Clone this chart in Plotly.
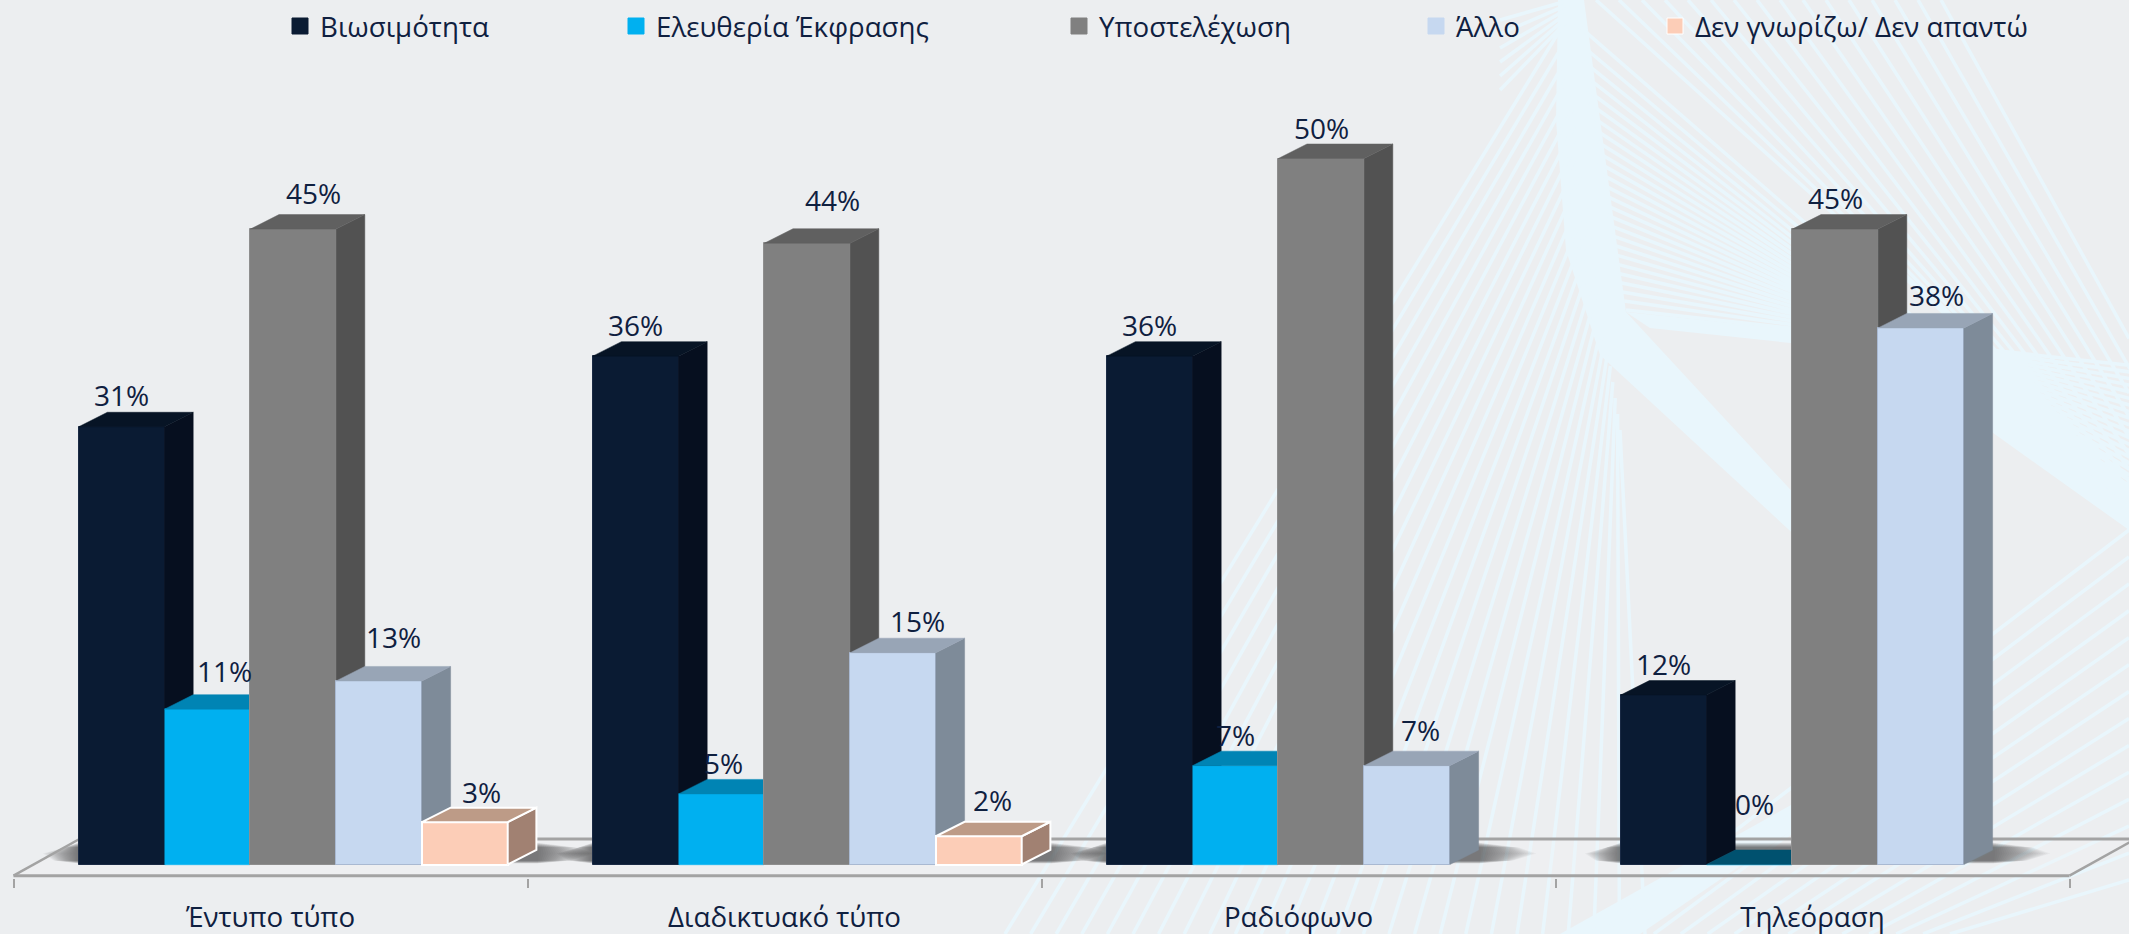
import plotly.graph_objects as go

# ---------- data ----------
categories = ["Έντυπο τύπο", "Διαδικτυακό τύπο", "Ραδιόφωνο", "Τηλεόραση"]
series_names = ["Βιωσιμότητα", "Ελευθερία Έκφρασης", "Υποστελέχωση", "Άλλο", "Δεν γνωρίζω/ Δεν απαντώ"]
viability = [31, 36, 36, 12]
expression = [11, 5, 7, 0]
understaffing = [45, 44, 50, 45]
other = [13, 15, 7, 38]
dont_know = [3, 2, None, None]
all_values = [viability, expression, understaffing, other, dont_know]

# ---------- styles ----------
front_colors = ["#0A1B33", "#00B0F0", "#808080", "#C6D8F0", "#FCCDB7"]
side_colors = ["#060F1F", "#00516F", "#525252", "#7E8B99", "#A18172"]
top_colors = ["#071425", "#0084B4", "#606060", "#98A5B6", "#BD9B87"]
edge_colors = ["#1A2A44", "#00B0F0", "#8E8E8E", "#A9B9D2", "#FFFFFF"]
edge_widths = [1, 0.5, 1, 1, 2]
legend_left_px = [292, 628, 1071, 1428, 1667]
text_color = "#0F2040"
bg_color = "#ECEEF0"
fan_color = "#E9F6FC"
font_family = "Open Sans"

# label nudges (px): dx from the bar centre, dy above the bar's front top
label_dx = [[0, 0, 0, 0], [17, 2, 0, 5], [20, 25, 0, 0], [14, 24, 13, 15], [17, 14, 0, 0]]
label_dy = [[31, 30, 30, 30], [37, 30, 30, 60], [35, 42, 30, 30], [43, 31, 35, 32], [29, 35, 0, 0]]

# ---------- geometry of the frame ----------
W, H = 2129, 934
GROUP_PX = 514.0
AXIS_LEFT_PX = 13.5
BASE_PX = 864.5
PX_PER_PCT = 14.12
BOTTOM_PX = 878.0
xr = [-AXIS_LEFT_PX / GROUP_PX, (W - AXIS_LEFT_PX) / GROUP_PX]
yr = [-(BOTTOM_PX - BASE_PX) / PX_PER_PCT, BASE_PX / PX_PER_PCT]
BAR_W = 85.8 / GROUP_PX
BAR_START = 65.2 / GROUP_PX
DX = 28.7 / GROUP_PX
DY = 14.5 / PX_PER_PCT
FLOOR_FRONT = -11.2 / PX_PER_PCT
FLOOR_BACK = 25.5 / PX_PER_PCT
FLOOR_DX = 66 / GROUP_PX


def px(v):
    return v / W


def py(v):
    return 1 - v / BOTTOM_PX


def seg(x0, y0, x1, y1):
    return f"M{px(x0):.5f},{py(y0):.5f}L{px(x1):.5f},{py(y1):.5f}"


def poly(pts):
    return "M" + "L".join(f"{px(a):.5f},{py(b):.5f}" for a, b in pts) + "Z"


def interp(x, pts):
    for (x0, y0), (x1, y1) in zip(pts, pts[1:]):
        if x <= x1:
            return y0 + (y1 - y0) * (x - x0) / (x1 - x0)
    return pts[-1][1]


shapes = []

# decorative background: pale bands and string-art line families
UPPER_ENV = [(1500, 335), (1800, 338), (1968, 385), (2129, 505)]
LOWER_ENV = [(1500, 350), (1800, 350), (1968, 415), (2129, 530)]
bands = [
    [(1558, 0), (1584, 0), (1626, 312), (1800, 500), (1800, 540), (1600, 355), (1566, 250), (1556, 120)],
    [(1626, 312), (1800, 330), (1968, 370), (2129, 488), (2129, 530), (1968, 415), (1800, 344), (1650, 328)],
    [(1560, 934), (1800, 800), (1800, 825), (1640, 934)],
]
for b in bands:
    shapes.append(dict(type="path", xref="paper", yref="paper", path=poly(b), fillcolor=fan_color,
                       line=dict(width=0), layer="below"))

paths = []
# rays descending to the right, starting on the top edge
for i in range(16):
    t = i / 15
    x0 = 1941 - 345 * t
    slope = 1.8 - 0.9 * t
    x1 = x0
    while x1 < W and interp(x1, UPPER_ENV) > slope * (x1 - x0):
        x1 += 2
    paths.append(seg(x0, 0, x1, slope * (x1 - x0)))
# rays descending to the right, starting on the band
for i in range(26):
    t = (i + 1) / 26
    y0 = 310 * t ** 0.75
    x0 = 1578 + 48 * t
    slope = 0.9 - 0.79 * t
    x1 = x0
    while x1 < W and interp(x1, UPPER_ENV) > y0 + slope * (x1 - x0):
        x1 += 2
    paths.append(seg(x0, y0, x1, y0 + slope * (x1 - x0)))
# rays rising from the bottom edge up to the band
for i in range(26):
    t = i / 25
    paths.append(seg(1005 + 640 * t, H, 1560 + 60 * t, 30 + 400 * t))
# rays rising to the right edge, lower right, stopping under the band
for i in range(14):
    t = i / 13
    xb, yr_end = 1600 + 350 * t, 530 + 350 * t
    slope = (H - yr_end) / (W - xb)
    x1 = W
    while x1 > xb and H - slope * (x1 - xb) < interp(x1, LOWER_ENV):
        x1 -= 2
    paths.append(seg(xb, H, x1, H - slope * (x1 - xb)))
# short fan at the very top, left of the band
for i in range(6):
    t = i / 5
    paths.append(seg(1500, 20 + 70 * t, 1570, 0 + 18 * t))
shapes.append(dict(type="path", xref="paper", yref="paper", path=" ".join(paths),
                   line=dict(color=fan_color, width=3.5), layer="below"))

# floor: faint strip
shapes.append(dict(type="path", xref="x", yref="y",
                   path=f"M0,{FLOOR_FRONT} L4,{FLOOR_FRONT} L{4 + FLOOR_DX},{FLOOR_BACK} L{FLOOR_DX},{FLOOR_BACK} Z",
                   fillcolor="rgba(245,245,245,0.25)", line=dict(width=0), layer="below"))

# soft shadows around each group of bars
for g in range(4):
    n = sum(1 for s in all_values if s[g] is not None)
    left = g + BAR_START
    right = left + n * BAR_W
    layers = 24
    for k in range(1, layers + 1):
        f = k / layers
        lo = (1 + 3 * f) / PX_PER_PCT
        hi = (22 - 5 * f) / PX_PER_PCT
        mid = 11 / PX_PER_PCT
        a = (36 / GROUP_PX) * f
        b = (58 / GROUP_PX) * f
        p = (f"M{left - a * 0.7},{lo} L{right + DX + b * 0.6},{lo} L{right + DX + b},{mid} "
             f"L{right + DX + b * 0.7},{hi} L{left - a * 0.4},{hi} L{left - a},{mid} Z")
        shapes.append(dict(type="path", xref="x", yref="y", path=p,
                           fillcolor="rgba(40,40,40,0.03)", line=dict(width=0), layer="below"))

shapes.append(dict(type="line", xref="x", yref="y", x0=FLOOR_DX, x1=xr[1] + 0.01, y0=FLOOR_BACK, y1=FLOOR_BACK,
                   line=dict(color="#A3A3A3", width=3), layer="below"))
shapes.append(dict(type="line", xref="x", yref="y", x0=0, x1=FLOOR_DX, y0=FLOOR_FRONT, y1=FLOOR_BACK,
                   line=dict(color="#A3A3A3", width=2.5), layer="below"))
shapes.append(dict(type="line", xref="x", yref="y", x0=4, x1=4 + FLOOR_DX, y0=FLOOR_FRONT, y1=FLOOR_BACK,
                   line=dict(color="#A3A3A3", width=2.5), layer="below"))
shapes.append(dict(type="line", xref="x", yref="y", x0=0, x1=4, y0=FLOOR_FRONT, y1=FLOOR_FRONT,
                   line=dict(color="#A3A3A3", width=3), layer="below"))

fig = go.Figure()

# every series lives on its own overlaid axes so that later bars cover earlier depth faces
for j, values in enumerate(all_values):
    suffix = str(j + 2)
    xa, ya = "x" + suffix, "y" + suffix
    xs = [g + BAR_START + (j + 0.5) * BAR_W for g in range(len(categories))]
    fig.add_trace(go.Bar(
        x=xs, y=values, width=BAR_W, xaxis=xa, yaxis=ya, showlegend=False, name=series_names[j],
        marker=dict(color=front_colors[j], line=dict(color=edge_colors[j], width=edge_widths[j])),
    ))
    sx, sy, tx, ty = [], [], [], []
    for g, v in enumerate(values):
        if v is None:
            continue
        l = xs[g] - BAR_W / 2
        r = xs[g] + BAR_W / 2
        top_x = [l, r, r + DX, l + DX, l, None]
        top_y = [v, v, v + DY, v + DY, v, None]
        if v == 0:
            sx += top_x
            sy += top_y
            continue
        sx += [r, r + DX, r + DX, r, r, None]
        sy += [0, DY, v + DY, v, 0, None]
        tx += top_x
        ty += top_y
    poly_line = dict(color=edge_colors[j] if j == 4 else side_colors[j], width=2 if j == 4 else 0.5)
    fig.add_trace(go.Scatter(x=sx, y=sy, mode="lines", fill="toself", fillcolor=side_colors[j], line=poly_line,
                             xaxis=xa, yaxis=ya, showlegend=False, hoverinfo="skip"))
    if tx:
        poly_line = dict(color=edge_colors[j] if j == 4 else top_colors[j], width=2 if j == 4 else 0.5)
        fig.add_trace(go.Scatter(x=tx, y=ty, mode="lines", fill="toself", fillcolor=top_colors[j], line=poly_line,
                                 xaxis=xa, yaxis=ya, showlegend=False, hoverinfo="skip"))

# legend entries, one small legend each so that the reference's spacing is kept
layout_legends = {}
for j, name in enumerate(series_names):
    key = "legend" if j == 0 else f"legend{j + 1}"
    fig.add_trace(go.Scatter(
        x=[None], y=[None], mode="markers", name=name, legend=key,
        marker=dict(symbol="square", size=17, color=front_colors[j],
                    line=dict(color="#FFFFFF" if j == 4 else front_colors[j], width=1)),
    ))
    layout_legends[key] = dict(
        x=(legend_left_px[j] - 12) / W, y=1 - 26.5 / BOTTOM_PX, xanchor="left", yanchor="middle",
        bgcolor="rgba(0,0,0,0)", borderwidth=0, itemsizing="trace", itemclick=False, itemdoubleclick=False,
        font=dict(family=font_family, size=27.7, color=text_color),
    )

# data labels
annotations = []
for j, values in enumerate(all_values):
    for g, v in enumerate(values):
        if v is None:
            continue
        annotations.append(dict(
            x=g + BAR_START + (j + 0.5) * BAR_W, y=v, xref="x", yref="y", text=f"{v}%", showarrow=False,
            xshift=label_dx[j][g], yshift=label_dy[j][g] + 1, xanchor="center", yanchor="middle",
            font=dict(family=font_family, size=28, color=text_color),
        ))

axes = dict(
    xaxis=dict(
        range=xr, domain=[0, 1], showgrid=False, zeroline=False, showline=False, fixedrange=True,
        tickmode="array", tickvals=[g + 0.5 for g in range(4)], ticktext=categories, ticks="", ticklen=0,
        tickfont=dict(family=font_family, size=27.7, color=text_color), ticklabelstandoff=20,
        minor=dict(tickmode="array", tickvals=[0, 1, 2, 3, 4], ticks="outside", ticklen=9, tickwidth=2,
                   tickcolor="#A3A3A3", showgrid=False),
    ),
    yaxis=dict(range=yr, domain=[0, 1], visible=False, fixedrange=True),
)
for j in range(len(all_values)):
    s = str(j + 2)
    axes["xaxis" + s] = dict(range=xr, overlaying="x", visible=False, fixedrange=True, anchor="y" + s)
    axes["yaxis" + s] = dict(range=yr, overlaying="y", visible=False, fixedrange=True, anchor="x" + s)

fig.update_layout(
    width=W, height=H, margin=dict(l=0, r=0, t=0, b=H - BOTTOM_PX, autoexpand=False),
    paper_bgcolor=bg_color, plot_bgcolor="rgba(0,0,0,0)", barmode="overlay", bargap=0,
    shapes=shapes, annotations=annotations, showlegend=True,
    font=dict(family=font_family, color=text_color), **axes, **layout_legends,
)
fig.write_html("out.html", config=dict(displayModeBar=False),
               post_script="document.body.style.margin='0';document.body.style.overflow='hidden';")
